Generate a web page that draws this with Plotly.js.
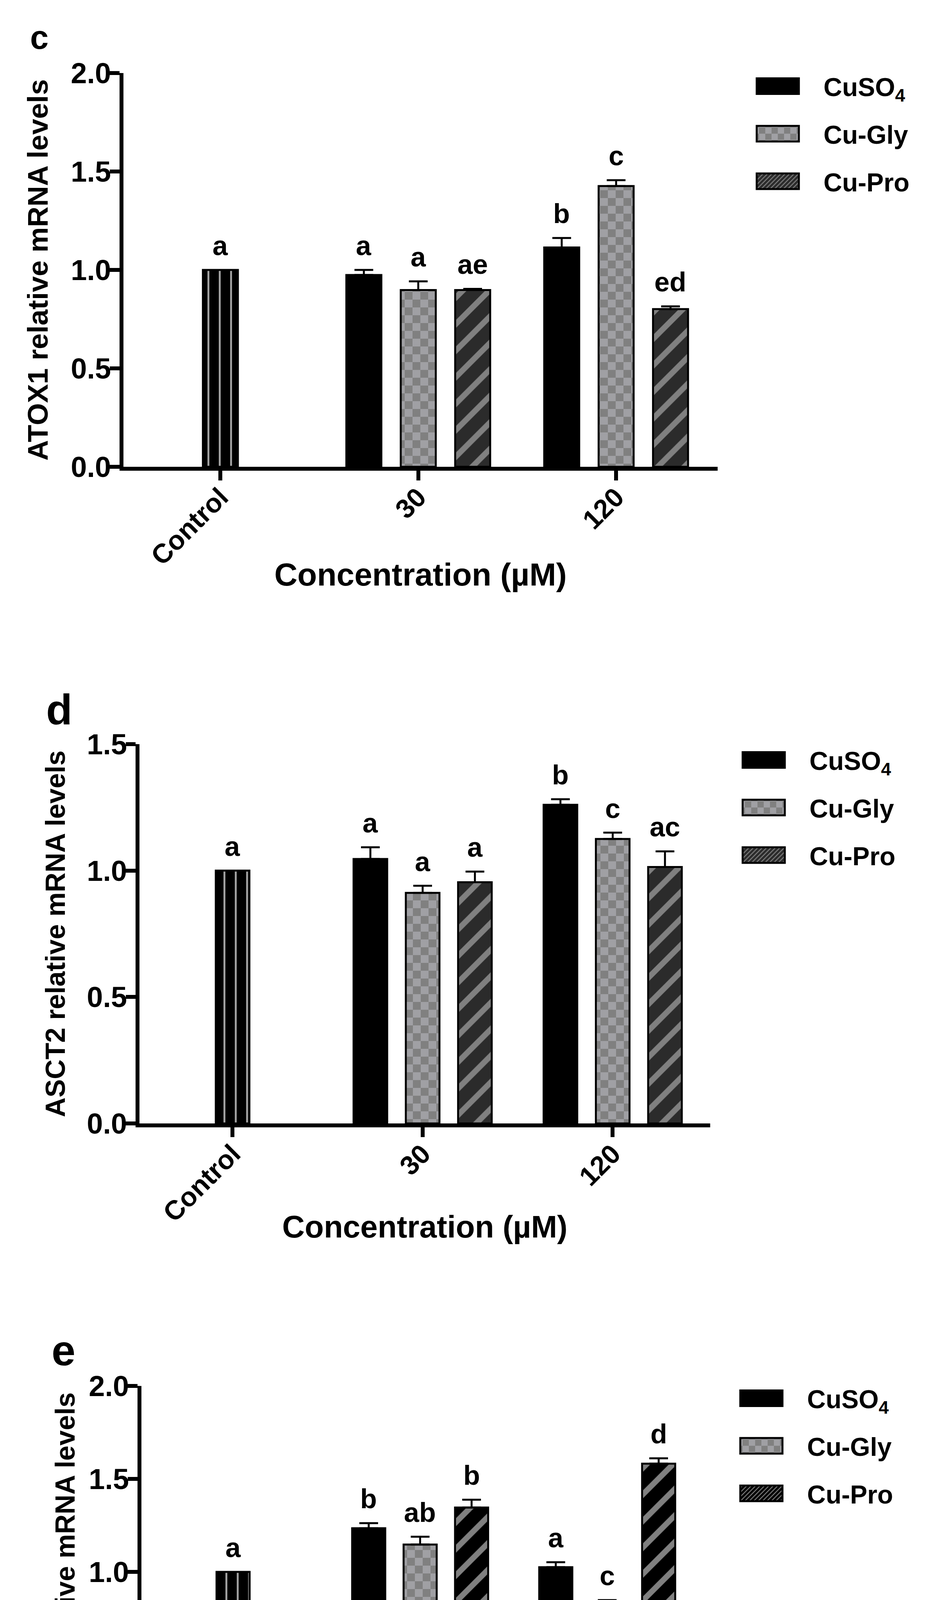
<!DOCTYPE html>
<html><head><meta charset="utf-8">
<script src="https://cdn.plot.ly/plotly-3.0.1.min.js"></script>
<style>html,body{margin:0;padding:0;background:#fff}#chart{width:2396px;height:4863px}</style>
</head><body><div id="chart"></div>
<script>
// ---------------- DATA ----------------
const groups = ['Control', '30', '120'];
const treatGroups = ['30', '120'];
const seriesNames = ['CuSO<sub>4</sub>', 'Cu-Gly', 'Cu-Pro'];
const panelLetters = ['c', 'd', 'e'];
const yTitles = ['ATOX1 relative mRNA levels', 'ASCT2 relative mRNA levels', 'PepT1 relative mRNA levels'];
const xTitle = 'Concentration (µM)';
const yMax = [2.0, 1.5, 2.0];

// panel c : ATOX1
const atox1Control = [1.00];
const atox1CuSO4 = [0.974, 1.114];
const atox1CuSO4Err = [0.026, 0.048];
const atox1CuGly = [0.898, 1.426];
const atox1CuGlyErr = [0.044, 0.030];
const atox1CuPro = [0.898, 0.801];
const atox1CuProErr = [0.006, 0.014];
const atox1LetterControl = ['a'];
const atox1LetterCuSO4 = ['a', 'b'];
const atox1LetterCuGly = ['a', 'c'];
const atox1LetterCuPro = ['ae', 'ed'];

// panel d : ASCT2
const asct2Control = [1.00];
const asct2CuSO4 = [1.046, 1.260];
const asct2CuSO4Err = [0.046, 0.022];
const asct2CuGly = [0.912, 1.125];
const asct2CuGlyErr = [0.028, 0.025];
const asct2CuPro = [0.954, 1.014];
const asct2CuProErr = [0.042, 0.062];
const asct2LetterControl = ['a'];
const asct2LetterCuSO4 = ['a', 'b'];
const asct2LetterCuGly = ['a', 'c'];
const asct2LetterCuPro = ['a', 'ac'];

// panel e : PepT1
const pept1Control = [1.00];
const pept1CuSO4 = [1.235, 1.025];
const pept1CuSO4Err = [0.027, 0.027];
const pept1CuGly = [1.147, 0.804];
const pept1CuGlyErr = [0.042, 0.044];
const pept1CuPro = [1.346, 1.582];
const pept1CuProErr = [0.042, 0.029];
const pept1LetterControl = ['a'];
const pept1LetterCuSO4 = ['b', 'a'];
const pept1LetterCuGly = ['ab', 'c'];
const pept1LetterCuPro = ['b', 'd'];

// ---------------- STYLE / LAYOUT ----------------
const W = 2396, H = 4863;
const FONT = 'Liberation Sans, Arial, Helvetica, sans-serif';
const px = v => v / W;
const py = v => 1 - v / H;

const panels = [
  {control: atox1Control, vals: [atox1CuSO4, atox1CuGly, atox1CuPro], errs: [atox1CuSO4Err, atox1CuGlyErr, atox1CuProErr],
   lettersControl: atox1LetterControl, letters: [atox1LetterCuSO4, atox1LetterCuGly, atox1LetterCuPro],
   xd: [316, 1837], yd: [187, 1195], proBg: '#2b2b2b', leg: {x: 1874, y: 171},
   lab: {x: 75, y: 95, size: 85}, yTitleSize: 73, yStandoff: 39, xTitleSize: 82, xTitlePos: 95},
  {control: asct2Control, vals: [asct2CuSO4, asct2CuGly, asct2CuPro], errs: [asct2CuSO4Err, asct2CuGlyErr, asct2CuProErr],
   lettersControl: asct2LetterControl, letters: [asct2LetterCuSO4, asct2LetterCuGly, asct2LetterCuPro],
   xd: [357, 1818], yd: [1905, 2876], proBg: '#2b2b2b', leg: {x: 1838, y: 1896},
   lab: {x: 116, y: 1815, size: 110}, yTitleSize: 70, yStandoff: 37, xTitleSize: 80, xTitlePos: 91},
  {control: pept1Control, vals: [pept1CuSO4, pept1CuGly, pept1CuPro], errs: [pept1CuSO4Err, pept1CuGlyErr, pept1CuProErr],
   lettersControl: pept1LetterControl, letters: [pept1LetterCuSO4, pept1LetterCuGly, pept1LetterCuPro],
   xd: [362, 1800], yd: [3548, 4500], proBg: '#000000', leg: {x: 1832, y: 3530},
   lab: {x: 130, y: 3456, size: 110}, yTitleSize: 70, yStandoff: 17, xTitleSize: 80, xTitlePos: 87}
];

const BAR_W = 0.177;
const STEP = 0.275;
const LINE_W = 5;

function seriesMarker(k, proBg) {
  if (k === 0) return {color: '#000000', line: {color: '#000000', width: LINE_W}};
  if (k === 1) return {color: '#a0a0a4', line: {color: '#000000', width: LINE_W},
    pattern: {shape: '+', bgcolor: '#a0a0a4', fgcolor: '#808080', size: 40, solidity: 0.5, fillmode: 'replace'}};
  return {color: proBg, line: {color: '#000000', width: LINE_W},
    pattern: {shape: '/', bgcolor: proBg, fgcolor: '#808080', size: 48, solidity: 0.3, fillmode: 'replace'}};
}

const data = [];
const annotations = [];
const layout = {
  width: W, height: H,
  margin: {l: 0, r: 0, t: 0, b: 0},
  paper_bgcolor: '#ffffff', plot_bgcolor: '#ffffff',
  barmode: 'overlay',
  showlegend: true,
  font: {family: FONT, color: '#000000', weight: 'bold'}
};

panels.forEach((p, i) => {
  const s = i === 0 ? '' : String(i + 1);
  const xa = 'x' + s, ya = 'y' + s;
  const legId = i === 0 ? 'legend' : 'legend' + (i + 1);

  // control bar
  data.push({
    type: 'bar', x: ['Control'], y: p.control, xaxis: xa, yaxis: ya,
    width: BAR_W, offset: -BAR_W / 2, showlegend: false, name: 'Control',
    marker: {color: '#000000', line: {color: '#000000', width: LINE_W},
      pattern: {shape: '|', bgcolor: '#000000', fgcolor: '#a0a0a0', size: 29, solidity: 0.17, fillmode: 'replace'}},
    hoverinfo: 'skip'
  });
  annotations.push({xref: xa, yref: ya, x: 0, y: p.control[0], text: p.lettersControl[0],
    showarrow: false, yanchor: 'bottom', xanchor: 'center', yshift: 21,
    font: {family: FONT, size: 70, weight: 'bold', color: '#000'}});

  for (let k = 0; k < 3; k++) {
    data.push({
      type: 'bar', x: treatGroups, y: p.vals[k], xaxis: xa, yaxis: ya,
      name: seriesNames[k], legend: legId, legendgroup: 'g' + i + k,
      width: BAR_W, offset: (k - 1) * STEP - BAR_W / 2,
      marker: seriesMarker(k, p.proBg),
      error_y: {type: 'data', symmetric: false, array: p.errs[k], arrayminus: p.vals[k].map(() => 0),
        color: '#000000', thickness: 5, width: 24},
      hoverinfo: 'skip'
    });
    treatGroups.forEach((g, gi) => {
      annotations.push({xref: xa, yref: ya, x: groups.indexOf(g) + (k - 1) * STEP,
        y: p.vals[k][gi] + p.errs[k][gi], text: p.letters[k][gi],
        showarrow: false, yanchor: 'bottom', xanchor: 'center', yshift: 21,
        font: {family: FONT, size: 70, weight: 'bold', color: '#000'}});
    });
  }

  // panel letter
  annotations.push({xref: 'paper', yref: 'paper', x: px(p.lab.x), y: py(p.lab.y), text: panelLetters[i],
    showarrow: false, xanchor: 'left', yanchor: 'middle',
    font: {family: FONT, size: p.lab.size, weight: 'bold', color: '#000'}});

  layout['xaxis' + s] = {
    domain: [px(p.xd[0]), px(p.xd[1])], anchor: ya,
    type: 'category', categoryorder: 'array', categoryarray: groups,
    range: [-0.49, 2.513], showline: true, linewidth: 10, linecolor: '#000',
    ticks: 'outside', ticklen: 25, tickwidth: 10, tickcolor: '#000', tickangle: -45,
    ticklabelstandoff: -25,
    tickfont: {family: FONT, size: 69, weight: 'bold', color: '#000'},
    showgrid: false, zeroline: false, fixedrange: true,
    title: {text: '<span style="font-size:' + p.xTitleSize + 'px">' + xTitle + '</span>',
      font: {family: FONT, size: p.xTitlePos, weight: 'bold', color: '#000'}}
  };
  layout['yaxis' + s] = {
    domain: [py(p.yd[1]), py(p.yd[0])], anchor: xa,
    range: [0, yMax[i]], dtick: 0.5, tick0: 0, tickformat: '.1f',
    showline: true, linewidth: 10, linecolor: '#000',
    ticks: 'outside', ticklen: 25, tickwidth: 10, tickcolor: '#000',
    ticklabelstandoff: -18,
    tickfont: {family: FONT, size: 74, weight: 'bold', color: '#000'},
    showgrid: false, zeroline: false, fixedrange: true,
    title: {text: yTitles[i], standoff: p.yStandoff, font: {family: FONT, size: p.yTitleSize, weight: 'bold', color: '#000'}}
  };
  layout[legId] = {
    x: px(p.leg.x), y: py(p.leg.y), xanchor: 'left', yanchor: 'top',
    itemwidth: 224, tracegroupgap: 33, traceorder: 'grouped', bgcolor: 'rgba(0,0,0,0)',
    font: {family: FONT, size: 66, weight: 'bold', color: '#000'}
  };
});
layout.annotations = annotations;

function finish(gd) {
  // checkerboard fill for the Cu-Gly pattern
  gd.querySelectorAll('pattern').forEach(pt => {
    const r = pt.querySelector('rect');
    if (!r) return;
    const st = ((r.getAttribute('style') || '') + ' ' + (r.getAttribute('fill') || '')).replace(/\s/g, '');
    if (st.indexOf('160,160,164') !== -1 || st.toLowerCase().indexOf('a0a0a4') !== -1) {
      const ns = 'http://www.w3.org/2000/svg';
      pt.setAttribute('width', '40px'); pt.setAttribute('height', '40px');
      pt.querySelectorAll('path').forEach(e => e.remove());
      r.setAttribute('width', 40); r.setAttribute('height', 40);
      [[0, 0], [20, 20]].forEach(([a, b]) => {
        const q = document.createElementNS(ns, 'rect');
        q.setAttribute('x', a); q.setAttribute('y', b);
        q.setAttribute('width', 20); q.setAttribute('height', 20);
        q.setAttribute('style', 'fill: rgb(128,128,128);');
        pt.appendChild(q);
      });
    }
  });
  // larger legend swatches
  gd.querySelectorAll('.legendpoints path').forEach(e => {
    e.setAttribute('d', 'M54,20H-54V-20H54Z');
  });
}

Plotly.newPlot('chart', data, layout, {staticPlot: true, displayModeBar: false}).then(finish);
</script>
</body></html>
